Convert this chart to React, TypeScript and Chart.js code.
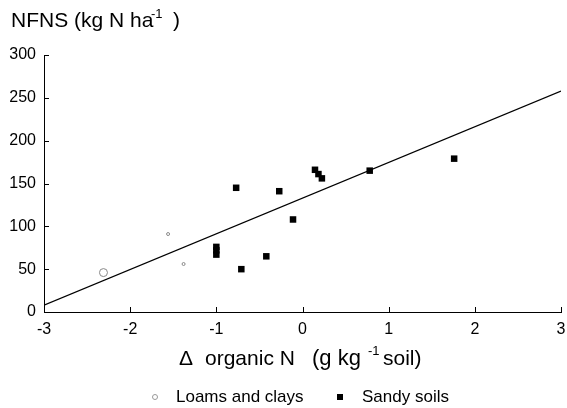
import React, { useEffect, useRef } from "react";
import { Chart, registerables } from "chart.js";

Chart.register(...registerables);

const sandyX = [-1, -1, -1, -0.77, -0.71, -0.42, -0.27, -0.11, 0.145, 0.185, 0.225, 0.78, 1.76];
const sandyY = [76, 72, 67, 145, 50, 65, 141, 108, 166, 161, 156, 165, 179];
const loamX = [-2.31, -1.56, -1.38];
const loamY = [46, 91, 56];
const loamR = [4, 1.5, 1.5];
const lineX = [-3, 3];
const lineY = [8, 258];
const xTicks = [-3, -2, -1, 0, 1, 2, 3];
const yTicks = [0, 50, 100, 150, 200, 250, 300];

const FONT = "'Liberation Sans', Arial, Helvetica, sans-serif";

const textPlugin = {
  id: "texts",
  afterDraw(chart: any) {
    const ctx = chart.ctx;
    ctx.save();
    // inner ticks
    const xs = chart.scales.x;
    const ys = chart.scales.y;
    const area = chart.chartArea;
    ctx.strokeStyle = "#000";
    ctx.lineWidth = 1;
    ctx.beginPath();
    xTicks.forEach((v) => {
      const px = Math.round(xs.getPixelForValue(v)) + 0.5;
      ctx.moveTo(px, area.bottom);
      ctx.lineTo(px, area.bottom - 5);
    });
    yTicks.forEach((v) => {
      const py = Math.round(ys.getPixelForValue(v)) + 0.5;
      ctx.moveTo(area.left, py);
      ctx.lineTo(area.left + 5, py);
    });
    ctx.stroke();

    ctx.fillStyle = "#000";
    ctx.textBaseline = "alphabetic";
    ctx.textAlign = "left";
    // y title
    const yb = 27;
    ctx.font = `21px ${FONT}`;
    ctx.fillText("NFNS (kg N ha", 11, yb);
    ctx.font = `13px ${FONT}`;
    ctx.fillText("-1", 151, yb - 9);
    ctx.font = `21px ${FONT}`;
    ctx.fillText(")", 173, yb);

    // x title
    const xb = 365;
    ctx.font = `21px ${FONT}`;
    ctx.fillText("\u0394", 179, xb);
    ctx.fillText("organic N", 205, xb);
    ctx.font = `22px ${FONT}`;
    ctx.fillText("(g kg", 312, xb);
    ctx.font = `13px ${FONT}`;
    ctx.fillText("-1", 368, xb - 10);
    ctx.font = `21px ${FONT}`;
    ctx.fillText("soil)", 383, xb);

    // legend
    const ly = 397;
    ctx.strokeStyle = "#999";
    ctx.lineWidth = 1;
    ctx.beginPath();
    ctx.arc(155, ly, 2.5, 0, Math.PI * 2);
    ctx.stroke();
    ctx.font = `17px ${FONT}`;
    ctx.textBaseline = "middle";
    ctx.fillText("Loams and clays", 176, ly);
    ctx.fillStyle = "#000";
    ctx.fillRect(337, ly - 3, 6, 6);
    ctx.fillText("Sandy soils", 362, ly);
    ctx.restore();
  },
};

export default function App() {
  const ref = useRef<HTMLCanvasElement>(null);
  useEffect(() => {
    document.body.style.margin = "0";
    const chart = new Chart(ref.current!, {
      type: "scatter",
      data: {
        datasets: [
          {
            type: "line",
            label: "fit",
            data: lineX.map((v, i) => ({ x: v, y: lineY[i] })),
            borderColor: "#000",
            borderWidth: 1.2,
            pointRadius: 0,
            fill: false,
          } as any,
          {
            label: "Loams and clays",
            data: loamX.map((v, i) => ({ x: v, y: loamY[i] })),
            pointStyle: "circle",
            pointRadius: loamR,
            backgroundColor: "rgba(0,0,0,0)",
            borderColor: "#888",
            borderWidth: 1,
          },
          {
            label: "Sandy soils",
            data: sandyX.map((v, i) => ({ x: v, y: sandyY[i] })),
            pointStyle: "rect",
            pointRadius: 4.6,
            backgroundColor: "#000",
            borderColor: "#000",
            borderWidth: 0,
          },
        ],
      },
      options: {
        animation: false,
        responsive: false,
        maintainAspectRatio: false,
        layout: { padding: { top: 55, right: 6, left: 0, bottom: 0 } },
        plugins: { legend: { display: false }, tooltip: { enabled: false } },
        scales: {
          x: {
            type: "linear",
            min: -3,
            max: 3,
            afterFit: (s: any) => {
              s.height = 96;
              s.paddingLeft = 0;
              s.paddingRight = 0;
            },
            afterBuildTicks: (s: any) => {
              s.ticks = xTicks.map((v) => ({ value: v }));
            },
            ticks: {
              color: "#000",
              font: { size: 16, family: FONT },
              padding: 8,
              maxRotation: 0,
            },
            grid: {
              drawOnChartArea: false,
              drawTicks: false,
              tickLength: 0,
              color: "#000",
            },
            border: { display: true, color: "#000", width: 1 },
          },
          y: {
            type: "linear",
            min: 0,
            max: 300,
            afterFit: (s: any) => {
              s.width = 44;
              s.paddingTop = 0;
              s.paddingBottom = 0;
            },
            afterBuildTicks: (s: any) => {
              s.ticks = yTicks.map((v) => ({ value: v }));
            },
            ticks: {
              color: "#000",
              font: { size: 16, family: FONT },
              padding: 8,
            },
            grid: {
              drawOnChartArea: false,
              drawTicks: false,
              tickLength: 0,
              color: "#000",
            },
            border: { display: true, color: "#000", width: 1 },
          },
        },
      },
      plugins: [textPlugin],
    } as any);
    return () => chart.destroy();
  }, []);
  return (
    <div style={{ position: "absolute", left: 0, top: 0, width: 567, height: 408, background: "#fff" }}>
      <canvas ref={ref} width={567} height={408} style={{ width: 567, height: 408 }} />
    </div>
  );
}
